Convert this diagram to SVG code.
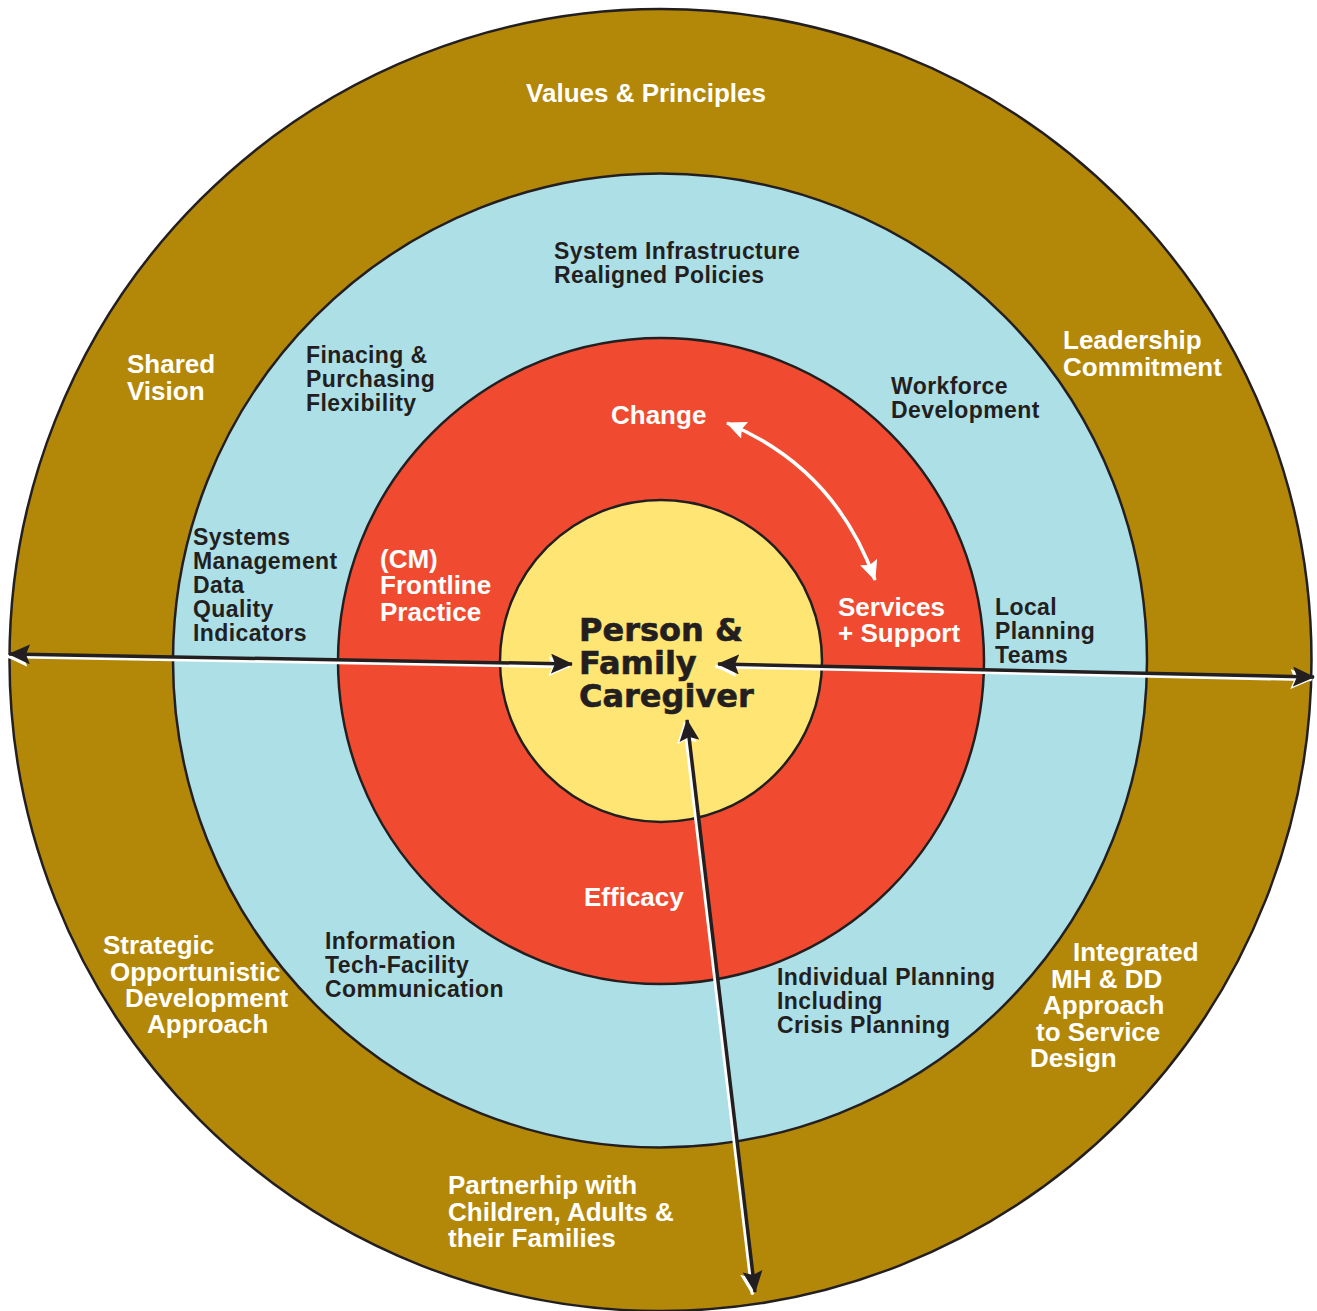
<svg xmlns="http://www.w3.org/2000/svg" width="1317" height="1311" viewBox="0 0 1317 1311">
<style>
.ring{stroke:#231f20;stroke-width:2.5}
.w{fill:#ffffff;font-family:"Liberation Sans",Arial,sans-serif;font-weight:bold;font-size:26px}
.d{fill:#231f20;font-family:"Liberation Sans",Arial,sans-serif;font-weight:bold;font-size:23px;letter-spacing:0.4px}
.c{fill:#231f20;font-family:"DejaVu Sans",sans-serif;font-weight:bold;font-size:32px;stroke:#231f20;stroke-width:0.6}
.blk{stroke:#231f20;stroke-width:3.5;fill:none}
.wht{stroke:#ffffff;stroke-width:3.5;fill:none}
</style>
<defs>
<marker id="ab" markerUnits="userSpaceOnUse" markerWidth="22" markerHeight="20" viewBox="0 0 22 20" refX="21" refY="10" orient="auto-start-reverse">
<path d="M0,0 L22,10 L0,20 L4,10 z" fill="#231f20"/>
</marker>
<marker id="aw" markerUnits="userSpaceOnUse" markerWidth="22" markerHeight="20" viewBox="0 0 22 20" refX="21" refY="10" orient="auto-start-reverse">
<path d="M0,0 L22,10 L0,20 L4,10 z" fill="#ffffff"/>
</marker>
<marker id="cw" markerUnits="userSpaceOnUse" markerWidth="20" markerHeight="18" viewBox="0 0 20 18" refX="19" refY="9" orient="auto-start-reverse">
<path d="M0,0 L20,9 L0,18 L3,9 z" fill="#ffffff"/>
</marker>
</defs>
<rect width="1317" height="1311" fill="#ffffff"/>
<g id="ring-values">
<circle class="ring" cx="660.5" cy="660" r="651" fill="#b38808"/>
<text class="w" x="646" y="102" text-anchor="middle">Values &amp; Principles</text>
<text class="w" x="127" y="373">Shared</text>
<text class="w" x="127" y="400">Vision</text>
<text class="w" x="1063" y="349">Leadership</text>
<text class="w" x="1063" y="376">Commitment</text>
<text class="w" x="103" y="954">Strategic</text>
<text class="w" x="110" y="981">Opportunistic</text>
<text class="w" x="125" y="1007">Development</text>
<text class="w" x="147" y="1033">Approach</text>
<text class="w" x="1073" y="961">Integrated</text>
<text class="w" x="1051" y="988">MH &amp; DD</text>
<text class="w" x="1043" y="1014">Approach</text>
<text class="w" x="1036" y="1041">to Service</text>
<text class="w" x="1030" y="1067">Design</text>
<text class="w" x="448" y="1194">Partnerhip with</text>
<text class="w" x="448" y="1221">Children, Adults &amp;</text>
<text class="w" x="448" y="1247">their Families</text>
</g>
<g id="ring-infrastructure">
<circle class="ring" cx="660" cy="660.5" r="487" fill="#addfe6"/>
<text class="d" x="554" y="259">System Infrastructure</text>
<text class="d" x="554" y="283">Realigned Policies</text>
<text class="d" x="306" y="363">Finacing &amp;</text>
<text class="d" x="306" y="387">Purchasing</text>
<text class="d" x="306" y="411">Flexibility</text>
<text class="d" x="891" y="394">Workforce</text>
<text class="d" x="891" y="418">Development</text>
<text class="d" x="193" y="545">Systems</text>
<text class="d" x="193" y="569">Management</text>
<text class="d" x="193" y="593">Data</text>
<text class="d" x="193" y="617">Quality</text>
<text class="d" x="193" y="641">Indicators</text>
<text class="d" x="995" y="615">Local</text>
<text class="d" x="995" y="639">Planning</text>
<text class="d" x="995" y="663">Teams</text>
<text class="d" x="325" y="949">Information</text>
<text class="d" x="325" y="973">Tech-Facility</text>
<text class="d" x="325" y="997">Communication</text>
<text class="d" x="777" y="985">Individual Planning</text>
<text class="d" x="777" y="1009">Including</text>
<text class="d" x="777" y="1033">Crisis Planning</text>
</g>
<g id="ring-practice">
<circle class="ring" cx="661" cy="661" r="323" fill="#f04b30"/>
<text class="w" x="611" y="424">Change</text>
<text class="w" x="380" y="568">(CM)</text>
<text class="w" x="380" y="594">Frontline</text>
<text class="w" x="380" y="621">Practice</text>
<text class="w" x="838" y="616">Services</text>
<text class="w" x="838" y="642">+ Support</text>
<text class="w" x="584" y="906">Efficacy</text>
</g>
<g id="core-person">
<circle class="ring" cx="661" cy="661" r="161" fill="#ffe574"/>
<text class="c" x="579" y="641">Person &amp;</text>
<text class="c" x="579" y="674">Family</text>
<text class="c" x="579" y="707">Caregiver</text>
</g>
<g id="connectors">
<g transform="translate(-2.5,2.5)">
<line class="wht" x1="9" y1="654" x2="572" y2="664" marker-start="url(#aw)" marker-end="url(#aw)"/>
<line class="wht" x1="718" y1="664" x2="1314" y2="677" marker-start="url(#aw)" marker-end="url(#aw)"/>
<line class="wht" x1="687" y1="720" x2="755" y2="1292" marker-start="url(#aw)" marker-end="url(#aw)"/>
</g>
<line class="blk" x1="9" y1="654" x2="572" y2="664" marker-start="url(#ab)" marker-end="url(#ab)"/>
<line class="blk" x1="718" y1="664" x2="1314" y2="677" marker-start="url(#ab)" marker-end="url(#ab)"/>
<line class="blk" x1="687" y1="720" x2="755" y2="1292" marker-start="url(#ab)" marker-end="url(#ab)"/>
<path class="wht" d="M727,423 Q835,468 875,580" marker-start="url(#cw)" marker-end="url(#cw)"/>
</g>
</svg>
